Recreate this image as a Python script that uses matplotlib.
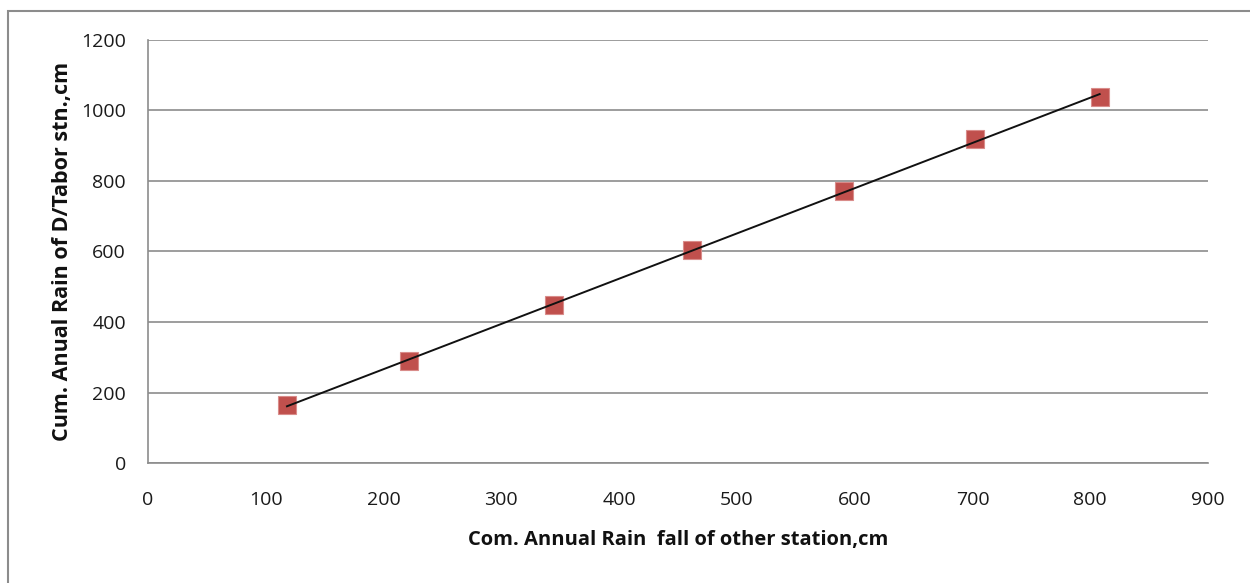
import numpy as np
import matplotlib.pyplot as plt
from matplotlib.patches import Rectangle

# Cumulative annual rainfall (cm)
other_station = [118, 222, 345, 462, 591, 702, 808]
tabor_station = [165, 289, 448, 604, 772, 919, 1038]

x_ticks = [0, 100, 200, 300, 400, 500, 600, 700, 800, 900]
y_ticks = [0, 200, 400, 600, 800, 1000, 1200]

plt.rcParams['font.family'] = ['Open Sans', 'DejaVu Sans']

W, H = 1250, 583
fig = plt.figure(figsize=(W / 100, H / 100), dpi=100)

# outer chart frame
fig.patches.append(Rectangle((8 / W, -0.1), 1.2, (H - 11) / H + 0.1,
                             transform=fig.transFigure, fill=False,
                             edgecolor='#8c8c8c', linewidth=1.5, zorder=0))

left, right, top, bottom = 148, 1208, 40, 463
ax = fig.add_axes([left / W, 1 - bottom / H, (right - left) / W, (bottom - top) / H])

ax.set_xlim(0, 900)
ax.set_ylim(0, 1200)
ax.set_xticks(x_ticks)
ax.set_yticks(y_ticks)
ax.tick_params(length=0, labelsize=14, colors='#1a1a1a')
ax.tick_params(axis='x', pad=20)
ax.tick_params(axis='y', pad=16)

ax.grid(axis='y', color='#8c8c8c', linewidth=1.2)
ax.set_axisbelow(True)
for side in ('top', 'right'):
    ax.spines[side].set_visible(False)
for side in ('left', 'bottom'):
    ax.spines[side].set_color('#8c8c8c')
    ax.spines[side].set_linewidth(1.2)

# linear trendline through the observations
slope, intercept = np.polyfit(other_station, tabor_station, 1)
xs = np.array([min(other_station), max(other_station)])
ax.plot(xs, slope * xs + intercept, color='#111111', linewidth=1.4, zorder=3)

ax.plot(other_station, tabor_station, linestyle='none', marker='s',
        markersize=13, markerfacecolor='#C0504D', markeredgecolor='#d98c8a',
        markeredgewidth=0.8, zorder=2)

ax.set_xlabel('Com. Annual Rain  fall of other station,cm', fontsize=14.5,
              fontweight='bold', labelpad=15, color='#111111')
ax.set_ylabel('Cum. Anual Rain of D/Tabor stn.,cm', fontsize=15.5,
              fontweight='bold', labelpad=6, color='#111111')

fig.savefig('out.png', dpi=100)
